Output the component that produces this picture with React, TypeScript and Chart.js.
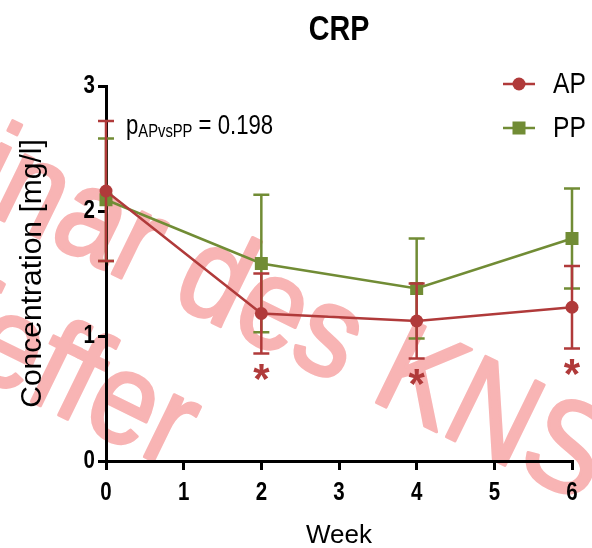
import React, { useEffect, useRef } from "react";
import { Chart, registerables } from "chart.js";

Chart.register(...registerables);

// Measurements per visit (mean ± error)
const weeks = [0, 2, 4, 6];
const apMean = [2.16, 1.18, 1.12, 1.23];
const apErr = [0.56, 0.32, 0.3, 0.33];
const ppMean = [2.09, 1.58, 1.38, 1.78];
const ppErr = [0.49, 0.55, 0.4, 0.4];
const significantWeeks = [2, 4, 6];

const yTickValues = [0, 1, 2, 3];
const xTickValues = [0, 1, 2, 3, 4, 5, 6];

const seriesNames = ["AP", "PP"];
const chartTitle = "CRP";
const xTitle = "Week";
const yTitle = "Concentration [mg/l]";
const pMain = "p";
const pSub = "APvsPP";
const pRest = " = 0.198";
const watermarkLines = ["Seminar des KNS", "Pfeffer"];

const AP_COLOR = "#b03a3a";
const PP_COLOR = "#718c35";
const WM_COLOR = "rgb(248, 180, 180)";
const WIDE = '"Liberation Sans", Arial, sans-serif';

let narrowAvailable: boolean | null = null;
function hasNarrow(ctx: CanvasRenderingContext2D) {
  if (narrowAvailable !== null) return narrowAvailable;
  ctx.save();
  ctx.font = "40px monospace";
  const a = ctx.measureText("AAAAWWWW").width;
  ctx.font = '40px "Liberation Sans Narrow", monospace';
  const b = ctx.measureText("AAAAWWWW").width;
  ctx.restore();
  narrowAvailable = Math.abs(a - b) > 1;
  return narrowAvailable;
}

// Condensed sans text; falls back to a horizontally squeezed regular face.
function narrowText(
  ctx: CanvasRenderingContext2D,
  text: string,
  x: number,
  y: number,
  size: number,
  bold: boolean,
  align: CanvasTextAlign,
  baseline: CanvasTextBaseline,
  color: string
): number {
  ctx.save();
  ctx.fillStyle = color;
  ctx.textAlign = align;
  ctx.textBaseline = baseline;
  const w = bold ? "bold " : "";
  let width: number;
  ctx.translate(x, y);
  if (hasNarrow(ctx)) {
    ctx.font = `${w}${size}px "Liberation Sans Narrow"`;
    ctx.fillText(text, 0, 0);
    width = ctx.measureText(text).width;
  } else {
    ctx.font = `${w}${size}px ${WIDE}`;
    ctx.scale(0.82, 1);
    ctx.fillText(text, 0, 0);
    width = ctx.measureText(text).width * 0.82;
  }
  ctx.restore();
  return width;
}

// Diagonal background lettering, drawn first so everything else sits above it.
const watermark = {
  id: "watermark",
  beforeDraw(chart: any) {
    const ctx: CanvasRenderingContext2D = chart.ctx;
    const ang = (26 * Math.PI) / 180;
    const spots = [
      { x: 166, y: 300, align: "center" as CanvasTextAlign },
      { x: 172, y: 470, align: "right" as CanvasTextAlign },
    ];
    ctx.save();
    ctx.fillStyle = WM_COLOR;
    ctx.strokeStyle = WM_COLOR;
    ctx.lineWidth = 3;
    ctx.lineJoin = "round";
    ctx.font = `130px ${WIDE}`;
    ctx.textBaseline = "alphabetic";
    watermarkLines.forEach((t, i) => {
      ctx.save();
      ctx.translate(spots[i].x, spots[i].y);
      ctx.rotate(ang);
      ctx.scale(0.9, 1);
      ctx.textAlign = spots[i].align;
      ctx.fillText(t, 0, 0);
      ctx.strokeText(t, 0, 0);
      ctx.restore();
    });
    ctx.restore();
  },
};

const errorBars = {
  id: "errorBars",
  beforeDatasetDraw(chart: any, args: any) {
    const ctx: CanvasRenderingContext2D = chart.ctx;
    const ds = chart.data.datasets[args.index];
    const errs: number[] = args.index === 0 ? apErr : ppErr;
    const yScale = chart.scales.y;
    ctx.save();
    ctx.strokeStyle = ds.borderColor;
    ctx.lineWidth = 2.5;
    args.meta.data.forEach((pt: any, i: number) => {
      const v = ds.data[i].y;
      const top = yScale.getPixelForValue(v + errs[i]);
      const bot = yScale.getPixelForValue(v - errs[i]);
      ctx.beginPath();
      ctx.moveTo(pt.x, top);
      ctx.lineTo(pt.x, bot);
      ctx.moveTo(pt.x - 8, top);
      ctx.lineTo(pt.x + 8, top);
      ctx.moveTo(pt.x - 8, bot);
      ctx.lineTo(pt.x + 8, bot);
      ctx.stroke();
    });
    ctx.restore();
  },
};

const overlay = {
  id: "overlay",
  afterDraw(chart: any) {
    const ctx: CanvasRenderingContext2D = chart.ctx;
    const xs = chart.scales.x;
    const ys = chart.scales.y;
    const area = chart.chartArea;

    // tick labels
    yTickValues.forEach((v) => {
      narrowText(ctx, String(v), area.left - 11, ys.getPixelForValue(v), 25, true, "right", "middle", "#000");
    });
    xTickValues.forEach((v) => {
      narrowText(ctx, String(v), xs.getPixelForValue(v), area.bottom + 32, 25, true, "center", "middle", "#000");
    });

    // title
    narrowText(ctx, chartTitle, (area.left + area.right) / 2, 30, 35, true, "center", "middle", "#000");

    // p-value annotation
    let px = 126;
    const base = 134;
    px += narrowText(ctx, pMain, px, base, 27, false, "left", "alphabetic", "#000");
    px += narrowText(ctx, pSub, px, base + 3, 18, false, "left", "alphabetic", "#000");
    narrowText(ctx, pRest, px, base, 27, false, "left", "alphabetic", "#000");

    // legend
    const legendRows = [
      { name: seriesNames[0], color: AP_COLOR, y: 84, style: "circle" },
      { name: seriesNames[1], color: PP_COLOR, y: 128, style: "rect" },
    ];
    legendRows.forEach((r) => {
      ctx.save();
      ctx.strokeStyle = r.color;
      ctx.fillStyle = r.color;
      ctx.lineWidth = 2.5;
      ctx.beginPath();
      ctx.moveTo(503, r.y);
      ctx.lineTo(535, r.y);
      ctx.stroke();
      if (r.style === "circle") {
        ctx.beginPath();
        ctx.arc(519, r.y, 6.5, 0, Math.PI * 2);
        ctx.fill();
      } else {
        ctx.fillRect(519 - 6.5, r.y - 6.5, 13, 13);
      }
      ctx.restore();
      narrowText(ctx, r.name, 553, r.y + 1, 30, false, "left", "middle", "#000");
    });

    // significance marks under AP
    ctx.save();
    ctx.fillStyle = AP_COLOR;
    ctx.font = `bold 42px ${WIDE}`;
    ctx.textAlign = "center";
    ctx.textBaseline = "alphabetic";
    const m = ctx.measureText("*");
    const glyphMid = (m.actualBoundingBoxAscent - m.actualBoundingBoxDescent) / 2;
    significantWeeks.forEach((w) => {
      const i = weeks.indexOf(w);
      const lower = ys.getPixelForValue(apMean[i] - apErr[i]);
      ctx.fillText("*", xs.getPixelForValue(w), lower + 18 + glyphMid);
    });
    ctx.restore();
  },
};

export default function App() {
  const canvasRef = useRef<HTMLCanvasElement | null>(null);

  useEffect(() => {
    document.body.style.margin = "0";
    const canvas = canvasRef.current;
    if (!canvas) return;
    const chart = new Chart(canvas, {
      type: "line",
      data: {
        datasets: [
          {
            label: seriesNames[0],
            data: weeks.map((w, i) => ({ x: w, y: apMean[i] })),
            borderColor: AP_COLOR,
            backgroundColor: AP_COLOR,
            borderWidth: 2.5,
            pointStyle: "circle",
            pointRadius: 6.5,
            pointBorderWidth: 0,
            clip: false,
            tension: 0,
          },
          {
            label: seriesNames[1],
            data: weeks.map((w, i) => ({ x: w, y: ppMean[i] })),
            borderColor: PP_COLOR,
            backgroundColor: PP_COLOR,
            borderWidth: 2.5,
            pointStyle: "rect",
            pointRadius: 9.2,
            pointBorderWidth: 0,
            clip: false,
            tension: 0,
          },
        ],
      },
      options: {
        responsive: false,
        animation: false,
        devicePixelRatio: 1,
        layout: { padding: { left: 0, right: 20, top: 86, bottom: 0 } },
        plugins: {
          legend: { display: false },
          title: { display: false },
          tooltip: { enabled: false },
        },
        scales: {
          x: {
            type: "linear",
            min: 0,
            max: 6,
            afterFit: (s: any) => {
              s.height = 87;
            },
            ticks: { display: false, stepSize: 1 },
            grid: {
              drawOnChartArea: false,
              drawTicks: true,
              tickLength: 9,
              color: "#000",
              lineWidth: 3,
            },
            border: { display: true, color: "#000", width: 3 },
            title: {
              display: true,
              text: xTitle,
              color: "#000",
              font: { family: WIDE, size: 26, lineHeight: 0.8 },
              padding: { top: 0, bottom: 2 },
            },
          },
          y: {
            type: "linear",
            min: 0,
            max: 3,
            afterFit: (s: any) => {
              s.width = 106;
            },
            ticks: { display: false, stepSize: 1 },
            grid: {
              drawOnChartArea: false,
              drawTicks: true,
              tickLength: 8,
              color: "#000",
              lineWidth: 3,
            },
            border: { display: true, color: "#000", width: 3 },
            title: {
              display: true,
              text: yTitle,
              color: "#000",
              font: { family: WIDE, size: 30, lineHeight: 1 },
              padding: { top: 18, bottom: 0 },
            },
          },
        },
      },
      plugins: [watermark, errorBars, overlay],
    });
    return () => chart.destroy();
  }, []);

  return (
    <div style={{ position: "fixed", left: 0, top: 0 }}>
      <canvas ref={canvasRef} width={592} height={548} style={{ width: 592, height: 548, display: "block" }} />
    </div>
  );
}
